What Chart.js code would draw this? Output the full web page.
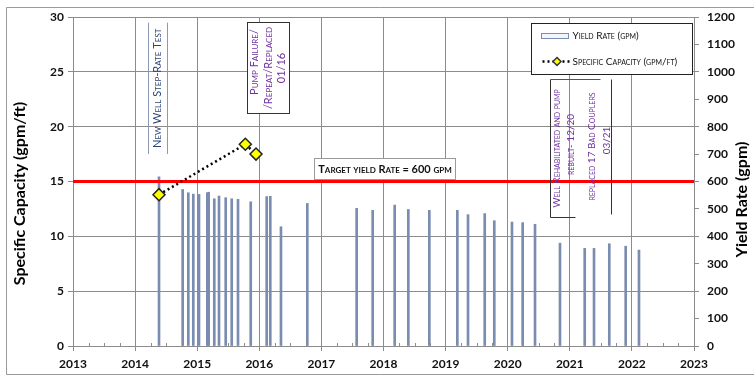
<!DOCTYPE html>
<html>
<head>
<meta charset="utf-8">
<script src="https://cdn.jsdelivr.net/npm/chart.js@4"></script>
<style>
  body { margin: 0; background: #fff; }
  #wrap { width: 754px; height: 376px; }
</style>
</head>
<body>
<div id="wrap"><canvas id="wellChart" width="754" height="376"></canvas></div>
<script>
// yield rate samples (decimal year, gpm)
const sampleDates = [2014.385, 2014.766, 2014.857, 2014.937, 2015.029, 2015.163, 2015.185, 2015.275, 2015.351, 2015.459,
  2015.556, 2015.657, 2015.862, 2016.119, 2016.177, 2016.349, 2016.773, 2017.568, 2017.826, 2018.180,
  2018.400, 2018.738, 2019.189, 2019.361, 2019.630, 2019.784, 2020.069, 2020.241, 2020.440, 2020.842,
  2021.240, 2021.390, 2021.636, 2021.900, 2022.114];
const yieldRate = [617, 571, 559, 554, 553, 559, 561, 537, 547, 541,
  537, 535, 526, 545, 546, 435, 520, 502, 495, 514,
  498, 495, 495, 479, 483, 457, 452, 450, 444, 375,
  356, 356, 373, 364, 350];

// specific capacity tests (decimal year, gpm/ft)
const capacityDates = [2014.385, 2015.775, 2015.947];
const specificCapacity = [13.8, 18.4, 17.5];

// target line
const targetYield = 600;
const targetSpan = [2013, 2023];

// axes
const yearMin = 2013, yearMax = 2023;
const capacityMax = 30, yieldMax = 1200;

const FONT = 'Lato';
Chart.defaults.font.family = FONT;
Chart.defaults.color = '#111';

const gridColor = '#8c8c8c';

// helper: text turned to read bottom-up
function vText(ctx, text, cx, cy, font, color) {
  ctx.save();
  ctx.translate(cx, cy);
  ctx.rotate(-Math.PI / 2);
  ctx.font = font;
  ctx.fillStyle = color;
  ctx.textAlign = 'center';
  ctx.textBaseline = 'middle';
  ctx.fillText(text, 0, 0);
  ctx.restore();
}

function line(ctx, x1, y1, x2, y2, color, w) {
  ctx.save();
  ctx.strokeStyle = color;
  ctx.lineWidth = w || 1;
  ctx.beginPath();
  ctx.moveTo(x1, y1);
  ctx.lineTo(x2, y2);
  ctx.stroke();
  ctx.restore();
}

// frame, axis titles, quarter ticks
const framePlugin = {
  id: 'frame',
  beforeDraw(chart) {
    const ctx = chart.ctx;
    ctx.save();
    ctx.fillStyle = '#fff';
    ctx.fillRect(0, 0, chart.width, chart.height);
    ctx.restore();
    line(ctx, 6.5, 7.5, chart.width, 7.5, '#9a9a9a', 1);
    line(ctx, 6.5, 7.5, 6.5, 374.5, '#9a9a9a', 1);
    line(ctx, 6.5, 374.5, chart.width, 374.5, '#9a9a9a', 1);
  },
  afterDraw(chart) {
    const ctx = chart.ctx;
    const a = chart.chartArea;
    const xs = chart.scales.x;
    vText(ctx, 'Specific Capacity (gpm/ft)', 20, (a.top + a.bottom) / 2 + 12, 'bold 16px ' + FONT, '#000');
    vText(ctx, 'Yield Rate (gpm)', 742, (a.top + a.bottom) / 2 + 18, 'bold 16px ' + FONT, '#000');
    // quarterly minor ticks
    for (let y = yearMin; y < yearMax; y++) {
      [0.25, 0.5, 0.75].forEach(q => {
        const px = Math.round(xs.getPixelForValue(y + q)) + 0.5;
        line(ctx, px, a.bottom, px, a.bottom - 3, '#8c8c8c', 1);
      });
    }
  }
};

// text boxes and legend
const notesPlugin = {
  id: 'notes',
  afterDraw(chart) {
    const ctx = chart.ctx;
    const xs = chart.scales.x, ys = chart.scales.y;
    const X = v => xs.getPixelForValue(v);
    const Y = v => ys.getPixelForValue(v);
    const purple = '#7030a0';

    // New well step-rate test
    line(ctx, Math.round(X(2014.203)) + 0.5, Y(29.48), Math.round(X(2014.203)) + 0.5, Y(17.51), '#8a9ab5', 1);
    line(ctx, Math.round(X(2014.509)) + 0.5, Y(29.48), Math.round(X(2014.509)) + 0.5, Y(17.51), '#8a9ab5', 1);
    vText(ctx, 'New Well Step-Rate Test', X(2014.36), Y(23.5), 'small-caps 11px ' + FONT, '#2a4474');

    // pump failure
    ctx.save();
    const bx1 = Math.round(X(2015.802)) + 0.5, bx2 = Math.round(X(2016.478)) + 0.5;
    const by1 = Math.round(Y(29.57)) + 0.5, by2 = Math.round(Y(21.22)) + 0.5;
    ctx.fillStyle = '#fff';
    ctx.fillRect(bx1, by1, bx2 - bx1, by2 - by1);
    ctx.strokeStyle = '#333';
    ctx.lineWidth = 1;
    ctx.strokeRect(bx1, by1, bx2 - bx1, by2 - by1);
    ctx.restore();
    const pcy = (by1 + by2) / 2;
    vText(ctx, 'Pump Failure/', X(2015.93), pcy - 6, 'small-caps 11px ' + FONT, purple);
    vText(ctx, '/Repeat/Replaced', X(2016.15), pcy, 'small-caps 11px ' + FONT, purple);
    vText(ctx, '01/16', X(2016.36), pcy, 'small-caps 11px ' + FONT, purple);

    // target yield label
    ctx.save();
    const tx1 = Math.round(X(2016.881)) + 0.5, tx2 = Math.round(X(2019.151)) + 0.5;
    const ty1 = Math.round(Y(17.17)) + 0.5, ty2 = Math.round(Y(15.23)) + 0.5;
    ctx.fillStyle = '#fff';
    ctx.fillRect(tx1, ty1, tx2 - tx1, ty2 - ty1);
    ctx.strokeStyle = '#9a9a9a';
    ctx.strokeRect(tx1, ty1, tx2 - tx1, ty2 - ty1);
    ctx.font = 'small-caps bold 11px ' + FONT;
    ctx.fillStyle = '#111';
    ctx.textAlign = 'center';
    ctx.textBaseline = 'middle';
    ctx.fillText('Target yield Rate = 600 gpm', (tx1 + tx2) / 2, (ty1 + ty2) / 2);
    ctx.restore();

    // well rehab notes (transparent boxes)
    const rxA = Math.round(X(2020.681)) + 0.5, rxB = Math.round(X(2021.084)) + 0.5;
    const rxT = Math.round(X(2021.486)) + 0.5, rxR = Math.round(X(2021.663)) + 0.5;
    const ryT = Math.round(Y(24.35)) + 0.5, ryB = Math.round(Y(11.76)) + 0.5, ryB2 = Math.round(Y(12.04)) + 0.5;
    line(ctx, rxA, ryT, rxA, ryB, '#333', 1);
    line(ctx, rxA, ryB, rxB, ryB, '#333', 1);
    line(ctx, rxA, ryT, rxT, ryT, '#555', 1);
    line(ctx, rxR, ryT, rxR, ryB2, '#333', 1);
    const rcy = (ryT + ryB) / 2;
    vText(ctx, 'Well Rehabilitated and pump', X(2020.794), rcy, 'small-caps 10px ' + FONT, purple);
    vText(ctx, 'rebuilt- 12/20', X(2021.02), rcy - 4, 'small-caps 10px ' + FONT, purple);
    vText(ctx, 'replaced 17 Bad Couplers', X(2021.357), rcy - 2, 'small-caps 10px ' + FONT, purple);
    vText(ctx, '03/21', X(2021.599), rcy - 8, 'small-caps 10px ' + FONT, purple);

    // legend
    ctx.save();
    const lx1 = Math.round(X(2020.375)) + 0.5, lx2 = Math.round(X(2022.968)) + 0.5;
    const ly1 = Math.round(Y(29.45)) + 0.5, ly2 = Math.round(Y(24.8)) + 0.5;
    ctx.fillStyle = '#fff';
    ctx.fillRect(lx1, ly1, lx2 - lx1, ly2 - ly1);
    ctx.strokeStyle = '#222';
    ctx.strokeRect(lx1, ly1, lx2 - lx1, ly2 - ly1);
    // bar swatch
    ctx.fillStyle = '#f4f5fa';
    ctx.fillRect(lx1 + 10, ly1 + 10, 27, 5);
    ctx.strokeStyle = '#7a8cb0';
    ctx.strokeRect(lx1 + 10, ly1 + 10, 27, 5);
    ctx.font = 'small-caps 10px ' + FONT;
    ctx.fillStyle = '#111';
    ctx.textAlign = 'left';
    ctx.textBaseline = 'middle';
    ctx.fillText('Yield Rate (gpm)', lx1 + 41, ly1 + 12.5);
    // line swatch
    const sy = ly1 + 38;
    ctx.setLineDash([2, 3]);
    ctx.lineWidth = 2.5;
    ctx.strokeStyle = '#000';
    ctx.beginPath();
    ctx.moveTo(lx1 + 11, sy);
    ctx.lineTo(lx1 + 39, sy);
    ctx.stroke();
    ctx.setLineDash([]);
    ctx.beginPath();
    const dx = lx1 + 25.5;
    ctx.moveTo(dx, sy - 4); ctx.lineTo(dx + 4, sy); ctx.lineTo(dx, sy + 4); ctx.lineTo(dx - 4, sy); ctx.closePath();
    ctx.fillStyle = '#ffff00';
    ctx.fill();
    ctx.lineWidth = 1.5;
    ctx.strokeStyle = '#333';
    ctx.stroke();
    ctx.fillStyle = '#111';
    ctx.fillText('Specific Capacity (gpm/ft)', lx1 + 41, sy);
    ctx.restore();
  }
};

const data = {
  datasets: [
    {
      type: 'line',
      label: 'Specific Capacity (gpm/ft)',
      data: capacityDates.map((d, i) => ({ x: d, y: specificCapacity[i] })),
      yAxisID: 'y',
      borderColor: '#000',
      borderWidth: 2.5,
      borderDash: [2, 3],
      pointStyle: 'rectRot',
      pointRadius: 6,
      pointBackgroundColor: '#ffff00',
      pointBorderColor: '#222',
      pointBorderWidth: 1.5,
      order: 0
    },
    {
      type: 'line',
      label: 'Target',
      data: targetSpan.map(d => ({ x: d, y: targetYield })),
      yAxisID: 'y1',
      borderColor: '#ff0000',
      borderWidth: 3,
      pointRadius: 0,
      order: 1
    },
    {
      type: 'bar',
      label: 'Yield Rate (gpm)',
      data: sampleDates.map((d, i) => ({ x: d, y: yieldRate[i] })),
      yAxisID: 'y1',
      backgroundColor: '#7a8cb0',
      borderWidth: 0,
      barThickness: 2,
      order: 2
    }
  ]
};

const tickFont = { family: FONT, size: 12, weight: 'bold' };

const config = {
  type: 'bar',
  data,
  options: {
    responsive: false,
    animation: false,
    layout: { padding: { top: 17, left: 0, right: 0, bottom: 0 } },
    plugins: {
      legend: { display: false },
      tooltip: { enabled: false }
    },
    scales: {
      x: {
        type: 'linear',
        min: yearMin,
        max: yearMax,
        offset: false,
        ticks: {
          stepSize: 1,
          autoSkip: false,
          maxRotation: 0,
          padding: 6,
          font: tickFont,
          color: '#111',
          callback: v => String(v)
        },
        grid: { color: gridColor, tickLength: 5, offset: false },
        border: { color: gridColor },
        afterFit: s => { s.height = 30; }
      },
      y: {
        position: 'left',
        min: 0,
        max: capacityMax,
        ticks: { stepSize: 5, padding: 4, font: tickFont, color: '#111', callback: v => String(v) },
        grid: { color: gridColor, tickLength: 5 },
        border: { color: gridColor },
        afterFit: s => { s.width = 73; }
      },
      y1: {
        position: 'right',
        min: 0,
        max: yieldMax,
        ticks: { stepSize: 100, padding: 8, font: tickFont, color: '#111', callback: v => String(v) },
        grid: { drawOnChartArea: false, color: gridColor, tickLength: 5 },
        border: { color: gridColor },
        afterFit: s => { s.width = 60; }
      }
    }
  },
  plugins: [framePlugin, notesPlugin]
};

const wellChart = new Chart(document.getElementById('wellChart'), config);
</script>
</body>
</html>
